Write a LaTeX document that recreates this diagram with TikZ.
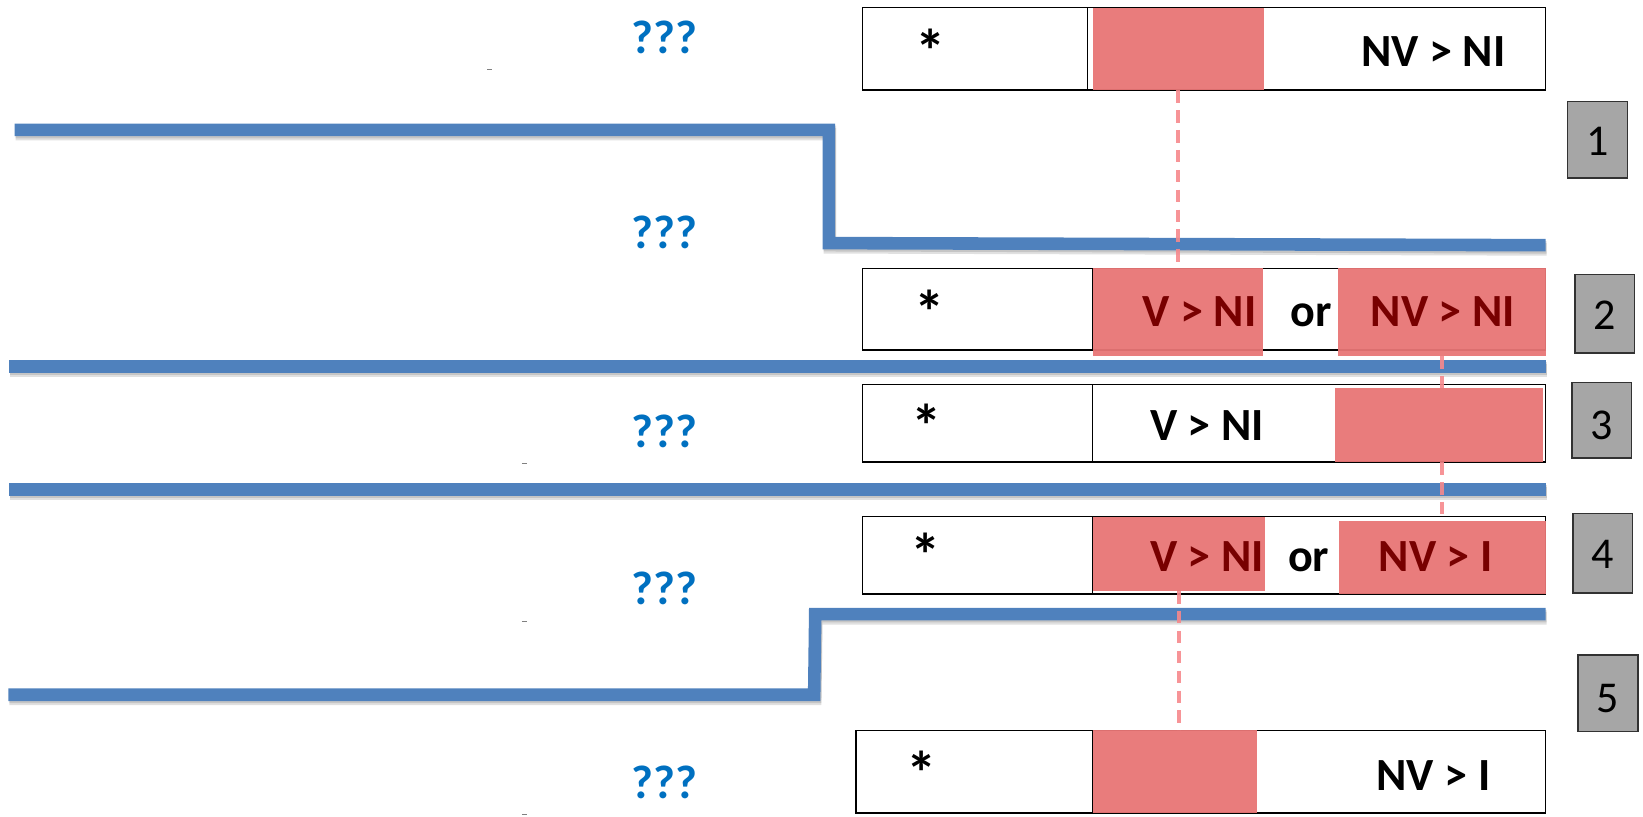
\documentclass[tikz,border=0pt]{standalone}
\usepackage{fontspec}
\setmainfont{Carlito}
\definecolor{lineblue}{RGB}{79,129,189}
\definecolor{boxred}{RGB}{232,118,118}
\definecolor{dashpink}{RGB}{246,136,140}
\definecolor{darkred}{RGB}{120,0,0}
\definecolor{qblue}{RGB}{0,112,192}
\definecolor{numgray}{RGB}{166,166,166}
\definecolor{numedge}{RGB}{50,50,50}
\begin{document}
\begin{tikzpicture}[x=1pt,y=-1pt,
  every node/.style={inner sep=0pt, outer sep=0pt},
  rowbox/.style={draw=black, line width=1.4pt, fill=white, anchor=north west},
  redfill/.style={fill=boxred, fill opacity=0.95, anchor=north west},
  numbox/.style={draw=numedge, line width=1.4pt, fill=numgray, anchor=north west},
  divider/.style={draw=black, line width=1pt},
  blueline/.style={draw=lineblue, line width=12pt, line join=miter},
  shadowline/.style={draw=black, opacity=0.12, line width=12pt, line join=miter},
  linkdash/.style={draw=dashpink, line width=4pt, dash pattern=on 12pt off 7pt, opacity=0.9},
  lbl/.style={anchor=base, font=\fontsize{44}{48}\selectfont\bfseries},
  starlbl/.style={anchor=base, font=\fontsize{58}{60}\selectfont\bfseries},
  redlbl/.style={lbl, text=darkred},
  qlbl/.style={anchor=base, font=\fontsize{45}{48}\selectfont\bfseries, text=qblue},
  numlbl/.style={anchor=base, font=\fontsize{42}{46}\selectfont},
  tick/.style={draw=gray, line width=0.8pt}
]
\useasboundingbox (0,0) rectangle (1568,779);

% soft shadows under the blue level lines
\foreach \s in {2,4}{
  \draw[shadowline, xshift=1pt, yshift=-\s pt] (14,124) -- (791,124) -- (791,232) -- (1475,234);
  \draw[shadowline, xshift=1pt, yshift=-\s pt] (9,349.5) -- (1475,349.5);
  \draw[shadowline, xshift=1pt, yshift=-\s pt] (9,467) -- (1475,467);
  \draw[shadowline, xshift=1pt, yshift=-\s pt] (8,663) -- (777,663) -- (778,586) -- (1475,586);
}
% blue level lines
\draw[blueline] (14,124) -- (791,124) -- (791,232) -- (1475,234);
\draw[blueline] (9,349.5) -- (1475,349.5);
\draw[blueline] (9,467) -- (1475,467);
\draw[blueline] (8,663) -- (777,663) -- (778,586) -- (1475,586);

% tiny marks
\draw[tick] (465,66) -- (470,66);
\draw[tick] (498,442) -- (503,442);
\draw[tick] (498,593) -- (503,593);
\draw[tick] (498,777) -- (503,777);

% question marks
\node[qlbl] (q1) at (634,51) {???};
\node[qlbl] (q2) at (634,237) {???};
\node[qlbl] (q3) at (634,427) {???};
\node[qlbl] (q4) at (634,577) {???};
\node[qlbl] (q5) at (634,762) {???};

% row boxes
\node[rowbox, minimum width=652pt, minimum height=79pt] (b1) at (823,7) {};
\node[rowbox, minimum width=652pt, minimum height=78pt] (b2) at (823,256) {};
\node[rowbox, minimum width=652pt, minimum height=74pt] (b3) at (823,367) {};
\node[rowbox, minimum width=652pt, minimum height=74pt] (b4) at (823,493) {};
\node[rowbox, minimum width=658pt, minimum height=79pt] (b5) at (817,697) {};

% red fields
\node[redfill, minimum width=163pt, minimum height=78pt] (r1) at (1043,8) {};
\node[redfill, minimum width=162pt, minimum height=84pt] (r2a) at (1043,256) {};
\node[redfill, minimum width=198pt, minimum height=84pt] (r2b) at (1277,256) {};
\node[redfill, minimum width=199pt, minimum height=71pt] (r3) at (1274,370) {};
\node[redfill, minimum width=164pt, minimum height=71pt] (r4a) at (1043,493) {};
\node[redfill, minimum width=197pt, minimum height=70pt] (r4b) at (1278,497) {};
\node[redfill, minimum width=157pt, minimum height=79pt] (r5) at (1043,697) {};

% dividers
\draw[divider] (1038,7) -- (1038,86);
\draw[divider] (1043,256) -- (1043,334);
\draw[divider] (1043,367) -- (1043,441);
\draw[divider] (1043,493) -- (1043,567);
\draw[divider] (1043,697) -- (1043,776);

% dashed links between red fields
\draw[linkdash] (r1.south) -- (r1.south |- r2a.north);
\draw[linkdash] (r2b.south) -- (r2b.south |- r3.north);
\draw[linkdash] (r3.south -| r2b.south) -- (r2b.south |- r4b.north);
\draw[linkdash] (r4a.south) -- (r4a.south |- r5.north);

% labels
\node[starlbl] (s1) at (888,69) {*};
\node[lbl] (t1) at (1368,63) {NV > NI};

\node[starlbl] (s2) at (887,318) {*};
\node[redlbl] (t2a) at (1145,312) {V > NI};
\node[lbl] (o2) at (1251,312) {or};
\node[redlbl] (t2b) at (1377,312) {NV > NI};

\node[starlbl] (s3) at (884,427) {*};
\node[lbl] (t3) at (1152,420) {V > NI};

\node[starlbl] (s4) at (883,550) {*};
\node[redlbl] (t4a) at (1152,545) {V > NI};
\node[lbl] (o4) at (1249,545) {or};
\node[redlbl] (t4b) at (1370,545) {NV > I};

\node[starlbl] (s5) at (880,758) {*};
\node[lbl] (t5) at (1368,754) {NV > I};

% numbered level tags
\node[numbox, minimum width=57pt, minimum height=73pt] (n1) at (1496,97) {};
\node[numbox, minimum width=57pt, minimum height=75pt] (n2) at (1503,262) {};
\node[numbox, minimum width=57pt, minimum height=72pt] (n3) at (1500,365) {};
\node[numbox, minimum width=57pt, minimum height=76pt] (n4) at (1501,490) {};
\node[numbox, minimum width=57pt, minimum height=73pt] (n5) at (1506,625) {};
\node[numlbl] at (n1.center |- 0,148) {1};
\node[numlbl] at (n2.center |- 0,314) {2};
\node[numlbl] at (n3.center |- 0,419) {3};
\node[numlbl] at (n4.center |- 0,543) {4};
\node[numlbl] at (n5.center |- 0,680) {5};
\end{tikzpicture}
\end{document}
